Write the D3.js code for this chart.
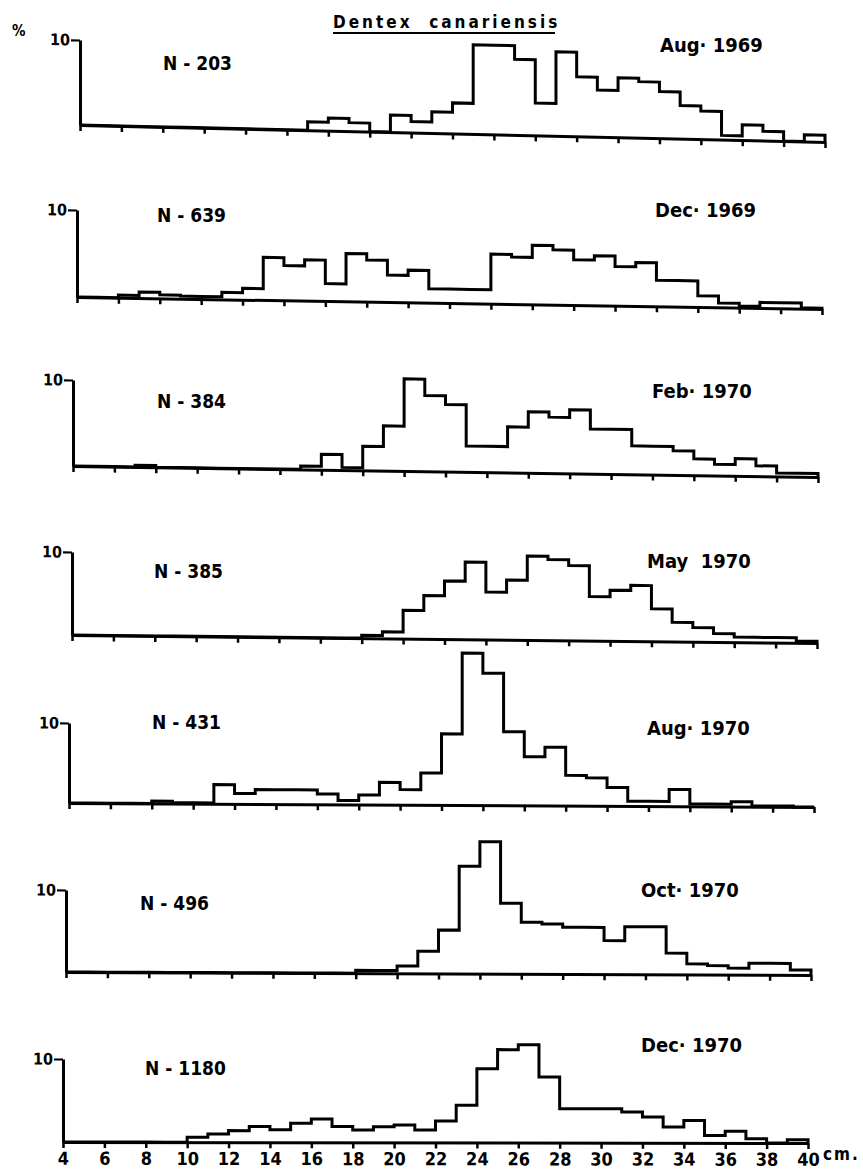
<!DOCTYPE html>
<html>
<head>
<meta charset="utf-8">
<title>Dentex canariensis – length frequencies</title>
<script src="https://cdn.jsdelivr.net/npm/d3@7/dist/d3.min.js"></script>
<style>
  html, body { margin: 0; padding: 0; background: #fff; }
  svg { display: block; }
  text {
    font-family: "Liberation Sans Narrow", "DejaVu Sans Condensed", "Liberation Sans", sans-serif;
    font-weight: bold;
    fill: #000;
  }
</style>
</head>
<body>
<svg id="chart" width="863" height="1171"></svg>
<script>
// ---- data: percentage of fish in each 1 cm length class (4-5 cm ... 39-40 cm) ----
const lengthClasses = d3.range(4, 40);          // lower bound of each class, cm
const axisTicks = d3.range(4, 41, 2);           // cm marks on every axis
const sampleSizes = ["N - 203", "N - 639", "N - 384", "N - 385", "N - 431", "N - 496", "N - 1180"];
const sampleDates = ["Aug\u00B7 1969", "Dec\u00B7 1969", "Feb\u00B7 1970", "May  1970", "Aug\u00B7 1970", "Oct\u00B7 1970", "Dec\u00B7 1970"];

const aug1969 = [0,0,0,0,0,0,0,0,0,0,0, 1.0,1.5,1.0,0,2.0,1.3,2.5,3.6,10.5,10.5,8.9,3.8,9.9,7.0,5.5,7.0,6.6,5.5,3.9,3.3,0.5,1.8,1.1,0,0.8];
const dec1969 = [0,0,0.3,0.7,0.4,0.3,0.3,0.8,1.3,4.9,4.0,4.7,2.0,5.5,4.8,3.1,3.7,1.6,1.6,1.6,5.7,5.4,6.8,6.3,5.2,5.7,4.5,5.0,3.0,3.0,1.3,0.5,0.2,0.65,0.65,0.1];
const feb1970 = [0,0,0,0.2,0,0,0,0,0,0,0, 0.4,1.8,0.3,2.8,5.2,10.7,8.8,7.8,3.0,3.0,5.3,7.1,6.5,7.4,5.2,5.2,3.3,3.3,2.8,1.9,1.3,2.0,1.2,0.4,0.4];
const may1970 = [0,0,0,0,0,0,0,0,0,0,0,0,0,0, 0.35,0.8,3.4,5.2,7.0,9.3,5.7,7.2,10.1,9.7,9.0,5.3,6.1,6.7,3.9,2.3,1.7,1.0,0.6,0.6,0.6,0.2];
const aug1970 = [0,0,0,0, 0.3,0.1,0.1,2.4,1.3,1.8,1.8,1.8,1.3,0.5,1.2,2.8,1.9,4.0,8.9,19.0,16.5,9.2,6.1,7.3,3.8,3.5,2.3,0.6,0.6,2.1,0.3,0.3,0.6,0.1,0.1,0];
const oct1970 = [0,0,0,0,0,0,0,0,0,0,0,0,0,0, 0.35,0.35,0.9,2.7,5.3,13.1,16.1,8.6,6.3,6.1,5.7,5.7,4.1,5.8,5.8,2.6,1.3,1.1,0.8,1.4,1.4,0.6];
const dec1970 = [0,0,0,0,0,0, 0.6,1.0,1.4,1.9,1.5,2.3,2.8,1.9,1.5,1.9,2.1,1.5,2.6,4.5,8.9,11.2,11.8,7.9,4.1,4.1,4.1,3.7,3.1,1.9,2.7,0.9,1.4,0.5,0,0.4];

const samples = [aug1969, dec1969, feb1970, may1970, aug1970, oct1970, dec1970];

// ---- layout of the seven stacked panels (pixels) ----
// left: x of the 4 cm end, base: y of the zero line at the left end,
// ten: height of the 10 % mark, drop: how far the hand-ruled baseline sinks by 40 cm
const panelLayout = [
  { left: 80, base: 125,  ten: 85, drop: 17, nX: 163, nY: 70,   dX: 660, dY: 52 },
  { left: 77, base: 297,  ten: 87, drop: 12, nX: 157, nY: 222,  dX: 655, dY: 217 },
  { left: 73, base: 466,  ten: 86, drop: 11, nX: 157, nY: 408,  dX: 652, dY: 398 },
  { left: 72, base: 635,  ten: 83, drop: 8,  nX: 154, nY: 578,  dX: 647, dY: 568 },
  { left: 69, base: 803,  ten: 80, drop: 4,  nX: 152, nY: 729,  dX: 647, dY: 735 },
  { left: 66, base: 972,  ten: 82, drop: 3,  nX: 140, nY: 910,  dX: 641, dY: 897 },
  { left: 63, base: 1142, ten: 83, drop: 1,  nX: 145, nY: 1075, dX: 641, dY: 1052 }
];
const axisWidth = 745;

const svg = d3.select("#chart");
svg.append("rect").attr("width", 863).attr("height", 1171).attr("fill", "#fff");

const x = d3.scaleLinear().domain([4, 40]).range([0, axisWidth]);

const stepLine = d3.line().curve(d3.curveStepAfter);

samples.forEach((values, p) => {
  const L = panelLayout[p];
  const y = d3.scaleLinear().domain([0, 10]).range([0, -L.ten]);
  const shear = Math.atan(L.drop / axisWidth) * 180 / Math.PI;

  const g = svg.append("g")
    .attr("transform", `translate(${L.left},${L.base}) skewY(${shear})`);

  // histogram outline, closed back down to the baseline at 40 cm
  const pts = lengthClasses.map((c, i) => [x(c), y(values[i])]);
  pts.push([x(40), y(values[values.length - 1])]);
  pts.push([x(40), y(0)]);
  g.append("path")
    .attr("d", stepLine(pts))
    .attr("fill", "none")
    .attr("stroke", "#000")
    .attr("stroke-width", 3)
    .attr("stroke-linejoin", "miter");

  // length axis
  const xAxis = d3.axisBottom(x)
    .tickValues(axisTicks)
    .tickSize(6)
    .tickSizeOuter(0)
    .tickPadding(4)
    .tickFormat(p === samples.length - 1 ? d3.format("d") : "");
  const xa = g.append("g").call(xAxis);
  xa.select(".domain").attr("stroke", "#000").attr("stroke-width", 3);
  xa.selectAll(".tick line").attr("stroke", "#000").attr("stroke-width", 2.5);
  xa.selectAll(".tick text")
    .attr("font-size", 18)
    .attr("fill", "#000")
    .style("font-family", null);

  // percentage axis with its single 10 % mark
  const yAxis = d3.axisLeft(y)
    .tickValues([10])
    .tickSize(9)
    .tickSizeOuter(0)
    .tickPadding(1)
    .tickFormat(d3.format("d"));
  const ya = g.append("g").call(yAxis);
  ya.select(".domain").attr("stroke", "#000").attr("stroke-width", 3);
  ya.selectAll(".tick line").attr("stroke", "#000").attr("stroke-width", 2.2);
  ya.selectAll(".tick text")
    .attr("font-size", 16)
    .attr("fill", "#000")
    .style("font-family", null);

  // sample size and month
  svg.append("text")
    .attr("x", L.nX).attr("y", L.nY)
    .attr("font-size", 19)
    .text(sampleSizes[p]);
  svg.append("text")
    .attr("x", L.dX).attr("y", L.dY)
    .attr("font-size", 20)
    .attr("xml:space", "preserve")
    .style("white-space", "pre")
    .text(sampleDates[p]);
});

// unit of the length axis
const last = panelLayout[panelLayout.length - 1];
svg.append("text")
  .attr("x", last.left + axisWidth + 15)
  .attr("y", last.base + 18)
  .attr("font-size", 17)
  .attr("letter-spacing", 2)
  .text("cm.");

// percent sign above the first frequency axis
svg.append("text")
  .attr("x", 12).attr("y", 36)
  .attr("font-size", 15)
  .text("%");

// species title, underlined
svg.append("text")
  .attr("x", 333).attr("y", 28)
  .attr("font-size", 17)
  .attr("letter-spacing", 3)
  .attr("xml:space", "preserve")
  .style("white-space", "pre")
  .text("Dentex  canariensis");
svg.append("line")
  .attr("x1", 333).attr("x2", 555)
  .attr("y1", 33).attr("y2", 33)
  .attr("stroke", "#000")
  .attr("stroke-width", 2.2);
</script>
</body>
</html>
